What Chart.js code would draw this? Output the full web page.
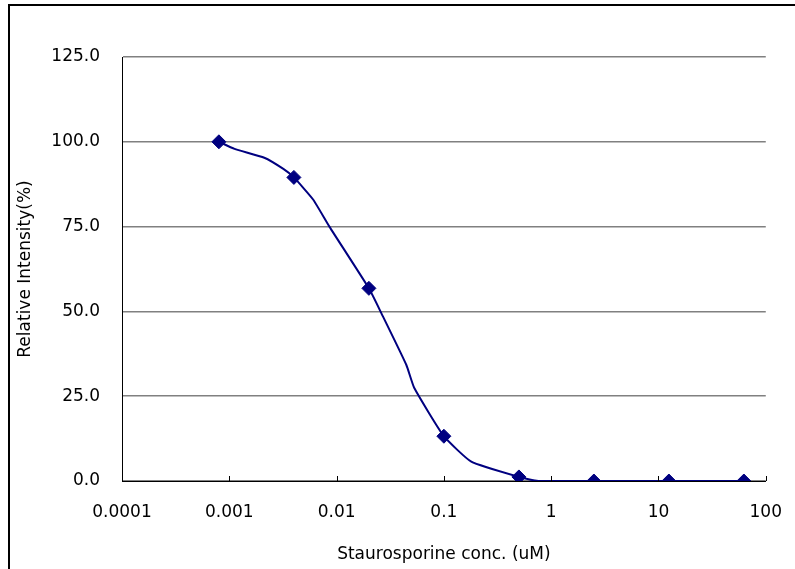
<!DOCTYPE html>
<html>
<head>
<meta charset="utf-8">
<script src="https://cdn.jsdelivr.net/npm/chart.js@4/dist/chart.umd.min.js"></script>
<style>
    html, body { margin: 0; padding: 0; background: #fff; }
    .wrap { position: relative; width: 795px; height: 569px; overflow: hidden; }
    .frame { position: absolute; left: 8px; top: 4px; width: 900px; height: 700px; border: 2px solid #000; }
    canvas { position: absolute; left: 0; top: 0; }
</style>
</head>
<body>
<div class="wrap">
    <div class="frame"></div>
    <canvas id="chart" width="795" height="569"></canvas>
</div>
<script>
// measured points (5-fold dilution)
const conc = [0.0008, 0.004, 0.02, 0.1, 0.5, 2.5, 12.5, 62.5];
const intensity = [100, 89.5, 56.8, 13.2, 1.2, 0, 0, 0];

// smoothed curve
const fitConc = [0.0008, 0.00112, 0.00212, 0.00319, 0.004, 0.00604, 0.00857, 0.02, 0.0261, 0.0447, 0.053, 0.1, 0.18, 0.5, 0.757, 2.5, 12.5, 62.5];
const fitIntensity = [100, 97.9, 95.3, 92.0, 89.5, 83.0, 75.0, 56.8, 49.5, 34.2, 27.4, 13.2, 5.7, 1.2, 0, 0, 0, 0];

const xTicks = [0.0001, 0.001, 0.01, 0.1, 1, 10, 100];
const xTickLabels = ['0.0001', '0.001', '0.01', '0.1', '1', '10', '100'];
const yTicks = [0, 25, 50, 75, 100, 125];

const font = { family: '"DejaVu Sans", sans-serif', size: 17 };

// small upward tick marks on the x axis
const innerTicks = {
    id: 'innerTicks',
    afterDatasetsDraw(chart) {
        const { ctx, scales: { x, y } } = chart;
        const base = y.getPixelForValue(0);
        ctx.save();
        ctx.strokeStyle = '#000';
        ctx.lineWidth = 1;
        xTicks.forEach(v => {
            const px = Math.round(x.getPixelForValue(v)) + 0.5;
            ctx.beginPath();
            ctx.moveTo(px, base);
            ctx.lineTo(px, base - 5);
            ctx.stroke();
        });
        ctx.restore();
    }
};

new Chart(document.getElementById('chart'), {
    type: 'scatter',
    data: {
        datasets: [{
            data: fitConc.map((c, i) => ({ x: c, y: fitIntensity[i] })),
            showLine: true,
            borderColor: '#000080',
            borderWidth: 2,
            pointRadius: 0,
            tension: 0.15
        }, {
            data: conc.map((c, i) => ({ x: c, y: intensity[i] })),
            showLine: false,
            pointStyle: 'rectRot',
            pointRadius: 7,
            backgroundColor: '#000080',
            borderColor: '#000080'
        }]
    },
    options: {
        responsive: false,
        animation: false,
        layout: { padding: { left: 0, right: 28, top: 57, bottom: 0 } },
        plugins: { legend: { display: false }, tooltip: { enabled: false } },
        scales: {
            x: {
                type: 'logarithmic',
                min: 0.0001,
                max: 100,
                afterBuildTicks: (s) => { s.ticks = xTicks.map(v => ({ value: v })); },
                afterFit: (s) => { s.height = 88; },
                ticks: {
                    color: '#000',
                    font: font,
                    padding: 13,
                    maxRotation: 0,
                    autoSkip: false,
                    callback: (v, i) => xTickLabels[i]
                },
                grid: { display: false },
                border: { color: '#000', width: 1 },
                title: {
                    display: true,
                    text: 'Staurosporine conc. (uM)',
                    color: '#000',
                    font: font,
                    padding: { top: 12, bottom: 4 }
                }
            },
            y: {
                min: 0,
                max: 125,
                afterBuildTicks: (s) => { s.ticks = yTicks.map(v => ({ value: v })); },
                afterFit: (s) => { s.width = 122; },
                ticks: {
                    color: '#000',
                    font: font,
                    padding: 22,
                    callback: (v) => v.toFixed(1)
                },
                grid: { color: '#808080', lineWidth: 1.5, drawTicks: false },
                border: { color: '#000', width: 1 },
                title: {
                    display: true,
                    text: 'Relative Intensity(%)',
                    color: '#000',
                    font: font,
                    padding: { bottom: 0, top: 15 }
                }
            }
        }
    },
    plugins: [innerTicks]
});
</script>
</body>
</html>
